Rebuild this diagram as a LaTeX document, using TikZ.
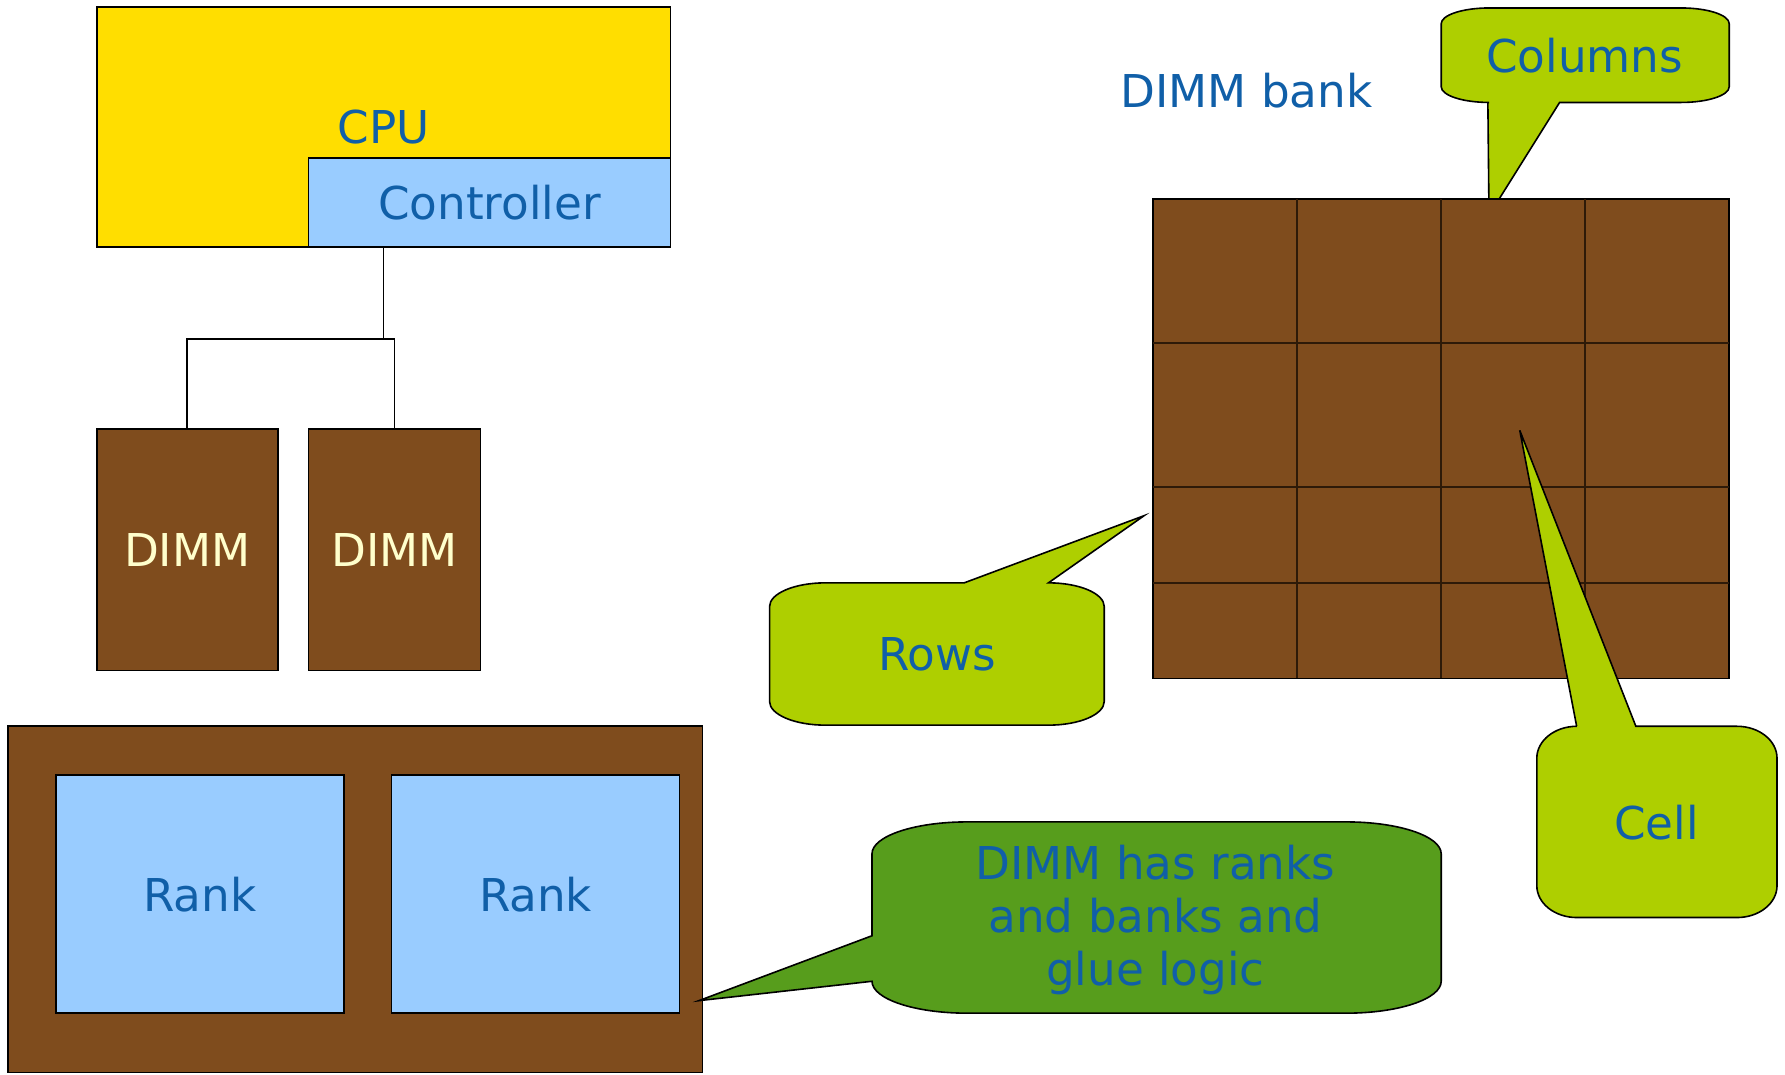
\documentclass[tikz,border=0pt]{standalone}
\usepackage{fontspec}
\setmainfont{DejaVu Sans}
\usetikzlibrary{fit}
\definecolor{cpuyellow}{HTML}{FFDE00}
\definecolor{ctrlblue}{HTML}{99CCFF}
\definecolor{dimmbrown}{HTML}{7F4C1D}
\definecolor{txtblue}{HTML}{105FA8}
\definecolor{dimmtxt}{HTML}{FFFFCC}
\definecolor{limegreen}{HTML}{AECF00}
\definecolor{darkgreen}{HTML}{579D1C}
\definecolor{gridline}{HTML}{2E1A08}
% #1 style, #2 x0, #3 y0, #4 x1, #5 y1, #6 top, #7 right, #8 bottom, #9 left insertions
\newcommand\mycallout[9]{%
  \pgfmathsetmacro\cRX{(#4-#2)/6}%
  \pgfmathsetmacro\cRY{(#5-#3)/6}%
  \pgfmathsetmacro\cCX{0.4477*\cRX}%
  \pgfmathsetmacro\cCY{0.4477*\cRY}%
  \path[#1] (#2+\cRX,#3) #6 -- (#4-\cRX,#3)
    .. controls (#4-\cCX,#3) and (#4,#3+\cCY) .. (#4,#3+\cRY) #7 -- (#4,#5-\cRY)
    .. controls (#4,#5-\cCY) and (#4-\cCX,#5) .. (#4-\cRX,#5) #8 -- (#2+\cRX,#5)
    .. controls (#2+\cCX,#5) and (#2,#5-\cCY) .. (#2,#5-\cRY) #9 -- (#2,#3+\cRY)
    .. controls (#2,#3+\cCY) and (#2+\cCX,#3) .. (#2+\cRX,#3) -- cycle;%
}
\tikzset{
  txt/.style={font=\fontsize{11.3}{13.3}\selectfont, inner sep=0pt},
  lbl/.style={txt, text=txtblue},
  dlbl/.style={txt, text=dimmtxt},
  box/.style={draw=black, line width=0.4pt, inner sep=0pt},
  wire/.style={draw=black, line width=0.4pt},
  shapeline/.style={draw=black, line width=0.4pt},
}
\begin{document}
\begin{tikzpicture}[x=0.01cm, y=-0.01cm]
\useasboundingbox (0,0) rectangle (1568,944.3);
% CPU and controller
\node[box, fill=cpuyellow, fit={(85,6) (589,217)}] (cpu) {};
\node[lbl] (cpulbl) at (cpu.center) {CPU};
\node[box, fill=ctrlblue, fit={(271,139) (589,217)}] (ctrl) {};
\node[lbl] (ctrllbl) at (ctrl.center) {Controller};
% DIMMs
\node[box, fill=dimmbrown, fit={(85,377) (244,589)}] (dimm1) {};
\node[dlbl] (dimm1lbl) at (dimm1.center) {DIMM};
\node[box, fill=dimmbrown, fit={(271,377) (422,589)}] (dimm2) {};
\node[dlbl] (dimm2lbl) at (dimm2.center) {DIMM};
\coordinate (j) at (337,298);
\draw[wire] (cpu.south) -- (j);
\draw[wire] (dimm1.north) |- (dimm2.north |- j) -- (dimm2.north);
% Big DIMM with ranks
\node[box, fill=dimmbrown, fit={(7,638) (617,942)}] (bigdimm) {};
\node[box, fill=ctrlblue, fit={(49,681) (302,890)}] (rank1) {};
\node[lbl] (rank1lbl) at (rank1.center) {Rank};
\node[box, fill=ctrlblue, fit={(344,681) (597,890)}] (rank2) {};
\node[lbl] (rank2lbl) at (rank2.center) {Rank};
% Callout: DIMM has ranks...
\mycallout{shapeline, fill=darkgreen}{766}{722}{1266}{890}{}{}{}{-- (766,862) -- (614,879) -- (766,822)}
\node[lbl, align=center] (glue) at (1015,808) {DIMM has ranks\\and banks and\\glue logic};
% Callout: Rows
\mycallout{shapeline, fill=limegreen}{676}{512}{970}{637}{-- (847,512) -- (1005,453) -- (921,512)}{}{}{}
\node[lbl] (rows) at (823,575) {Rows};
% Callout: Columns (behind grid)
\mycallout{shapeline, fill=limegreen}{1266}{7}{1519}{90}{}{}{-- (1370,90) -- (1308,189) -- (1307,90)}{}
\node[lbl] (cols) at (1392,49) {Columns};
% DIMM bank grid
\node[box, fill=dimmbrown, fit={(1013,175) (1519,596)}] (bank) {};
\foreach \gx in {1139,1266,1392} \draw[gridline, line width=0.5pt] (\gx,175) -- (\gx,596);
\foreach \gy in {301,428,512} \draw[gridline, line width=0.5pt] (1013,\gy) -- (1519,\gy);
\node[lbl] (banklbl) at (1095,80) {DIMM bank};
% Callout: Cell
\mycallout{shapeline, fill=limegreen}{1350}{638}{1561}{806}{-- (1385,638) -- (1335,378) -- (1437,638)}{}{}{}
\node[lbl] (cell) at (1455,723) {Cell};
\end{tikzpicture}
\end{document}
